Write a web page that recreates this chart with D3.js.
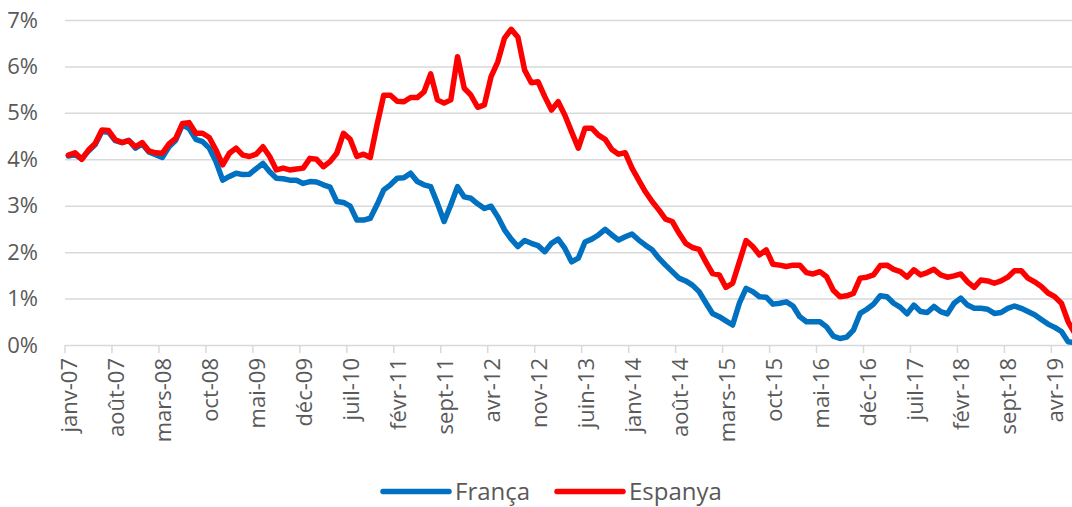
<!DOCTYPE html>
<html>
<head>
<meta charset="utf-8">
<script src="https://cdn.jsdelivr.net/npm/d3@7"></script>
<style>
  body { margin: 0; background: #fff; }
  text { font-family: "Open Sans", sans-serif; fill: #595959; }
</style>
</head>
<body>
<div id="wrapper"></div>
<script>
// 1. Data

const monthNames = ["janv", "févr", "mars", "avr", "mai", "juin", "juil", "août", "sept", "oct", "nov", "déc"];
const years = d3.range(2007, 2020);

const tickLabels = [
  "janv-07", "août-07", "mars-08", "oct-08", "mai-09", "déc-09", "juil-10", "févr-11",
  "sept-11", "avr-12", "nov-12", "juin-13", "janv-14", "août-14", "mars-15", "oct-15",
  "mai-16", "déc-16", "juil-17", "févr-18", "sept-18", "avr-19",
];

const seriesNames = ["França", "Espanya"];

const franca = [
  4.07, 4.10, 4.01, 4.18, 4.32, 4.60, 4.58, 4.40, 4.36, 4.41,
  4.24, 4.33, 4.16, 4.10, 4.04, 4.27, 4.41, 4.74, 4.66, 4.43,
  4.38, 4.24, 3.95, 3.55, 3.63, 3.70, 3.67, 3.68, 3.80, 3.91,
  3.73, 3.59, 3.58, 3.55, 3.55, 3.48, 3.52, 3.51, 3.45, 3.40,
  3.09, 3.07, 2.99, 2.69, 2.69, 2.73, 3.02, 3.34, 3.45, 3.59,
  3.60, 3.70, 3.52, 3.45, 3.41, 3.05, 2.66, 3.02, 3.41, 3.19,
  3.16, 3.04, 2.94, 2.99, 2.76, 2.48, 2.28, 2.12, 2.25, 2.19,
  2.14, 2.01, 2.19, 2.28, 2.08, 1.79, 1.87, 2.22, 2.28, 2.37,
  2.49, 2.37, 2.26, 2.33, 2.39, 2.26, 2.15, 2.05, 1.87, 1.72,
  1.58, 1.44, 1.38, 1.29, 1.15, 0.91, 0.68, 0.61, 0.52, 0.43,
  0.90, 1.22, 1.15, 1.04, 1.03, 0.88, 0.90, 0.93, 0.84, 0.61,
  0.50, 0.50, 0.50, 0.39, 0.19, 0.14, 0.17, 0.32, 0.68, 0.77,
  0.88, 1.06, 1.04, 0.90, 0.81, 0.67, 0.86, 0.72, 0.70, 0.83,
  0.72, 0.67, 0.90, 1.01, 0.86, 0.79, 0.79, 0.77, 0.68, 0.70,
  0.79, 0.84, 0.79, 0.72, 0.65, 0.55, 0.45, 0.38, 0.29, 0.07,
  0.05,
];

const espanya = [
  4.09, 4.14, 4.00, 4.20, 4.34, 4.63, 4.62, 4.42, 4.36, 4.40,
  4.27, 4.36, 4.18, 4.14, 4.13, 4.33, 4.45, 4.77, 4.79, 4.56,
  4.56, 4.47, 4.20, 3.88, 4.13, 4.24, 4.09, 4.06, 4.11, 4.27,
  4.06, 3.77, 3.81, 3.77, 3.79, 3.81, 4.02, 4.00, 3.84, 3.95,
  4.13, 4.56, 4.43, 4.06, 4.11, 4.04, 4.74, 5.38, 5.38, 5.25,
  5.24, 5.33, 5.33, 5.45, 5.84, 5.28, 5.21, 5.28, 6.21, 5.53,
  5.38, 5.12, 5.17, 5.78, 6.10, 6.61, 6.80, 6.63, 5.92, 5.65,
  5.67, 5.35, 5.06, 5.24, 4.95, 4.59, 4.24, 4.67, 4.67, 4.52,
  4.43, 4.21, 4.11, 4.14, 3.81, 3.55, 3.30, 3.09, 2.91, 2.71,
  2.66, 2.41, 2.19, 2.10, 2.06, 1.79, 1.54, 1.51, 1.24, 1.33,
  1.79, 2.25, 2.12, 1.94, 2.05, 1.74, 1.72, 1.69, 1.72, 1.72,
  1.56, 1.53, 1.58, 1.47, 1.18, 1.04, 1.06, 1.11, 1.44, 1.46,
  1.51, 1.71, 1.72, 1.63, 1.58, 1.46, 1.62, 1.51, 1.56, 1.63,
  1.51, 1.46, 1.49, 1.53, 1.36, 1.24, 1.40, 1.38, 1.33, 1.38,
  1.46, 1.60, 1.60, 1.44, 1.36, 1.26, 1.12, 1.04, 0.90, 0.50,
  0.25,
];

const yTicks = [0, 1, 2, 3, 4, 5, 6, 7];

// month categories janv-07 ... (one per value)
const months = years
  .flatMap((yr) => monthNames.map((m) => `${m}-${String(yr).slice(2)}`))
  .slice(0, franca.length);

const colors = { "França": "#0070c0", "Espanya": "#ff0000" };

// 2. Dimensions

const dimensions = {
  width: 1072,
  height: 507,
  left: 65,
  top: 20,
  bottom: 345,
  step: 6.71,
};

// 3. Canvas

const svg = d3
  .select("#wrapper")
  .append("svg")
  .attr("width", dimensions.width)
  .attr("height", dimensions.height);

// 4. Scales

const xScale = d3
  .scaleBand()
  .domain(months)
  .range([dimensions.left, dimensions.left + dimensions.step * months.length]);

const bw = xScale.bandwidth();

const yScale = d3
  .scaleLinear()
  .domain([0, 7])
  .range([dimensions.bottom, dimensions.top]);

// 5. Peripherals

const yAxis = svg
  .append("g")
  .attr("transform", `translate(${dimensions.left},0)`)
  .call(
    d3
      .axisLeft(yScale)
      .tickValues(yTicks)
      .tickSize(-(dimensions.width - dimensions.left))
      .tickPadding(27)
      .tickFormat((d) => d + "%")
  );
yAxis.select(".domain").remove();
yAxis.selectAll(".tick line").attr("stroke", "#d9d9d9").attr("stroke-width", 1.5);
yAxis.selectAll(".tick text").style("font-size", "22px").attr("fill", "#595959");

const tickMonths = tickLabels.filter((d) => months.includes(d));

const xAxis = svg
  .append("g")
  .attr("transform", `translate(0,${dimensions.bottom})`)
  .call(d3.axisBottom(xScale).tickValues(tickMonths).tickSize(8).tickSizeOuter(0));
xAxis.select(".domain").remove();
xAxis
  .selectAll(".tick line")
  .attr("x1", -bw / 2)
  .attr("x2", -bw / 2)
  .attr("stroke", "#d9d9d9")
  .attr("stroke-width", 1.5);
xAxis
  .selectAll(".tick text")
  .attr("fill", "#595959")
  .style("font-size", "22px")
  .attr("text-anchor", "end")
  .attr("transform", "rotate(-90)")
  .attr("x", -13)
  .attr("y", 1)
  .attr("dy", "0.35em");

// 6. Lines

const lineGenerator = d3
  .line()
  .x((d, i) => xScale(months[i]) + bw / 2)
  .y((d) => yScale(d));

[franca, espanya].forEach((values, k) => {
  svg
    .append("path")
    .datum(values)
    .attr("fill", "none")
    .attr("stroke", colors[seriesNames[k]])
    .attr("stroke-width", 5.5)
    .attr("stroke-linejoin", "round")
    .attr("stroke-linecap", "round")
    .attr("d", lineGenerator);
});

// 7. Legend

const legendItems = [
  { name: "França", x: 383 },
  { name: "Espanya", x: 557 },
];
const legend = svg.append("g").attr("transform", "translate(0,491.5)");
legendItems.forEach((item) => {
  legend
    .append("line")
    .attr("x1", item.x)
    .attr("x2", item.x + 66)
    .attr("stroke", colors[item.name])
    .attr("stroke-width", 5.5)
    .attr("stroke-linecap", "round");
  legend
    .append("text")
    .attr("x", item.x + 72)
    .attr("dy", "0.35em")
    .style("font-size", "24px")
    .text(item.name);
});
</script>
</body>
</html>
